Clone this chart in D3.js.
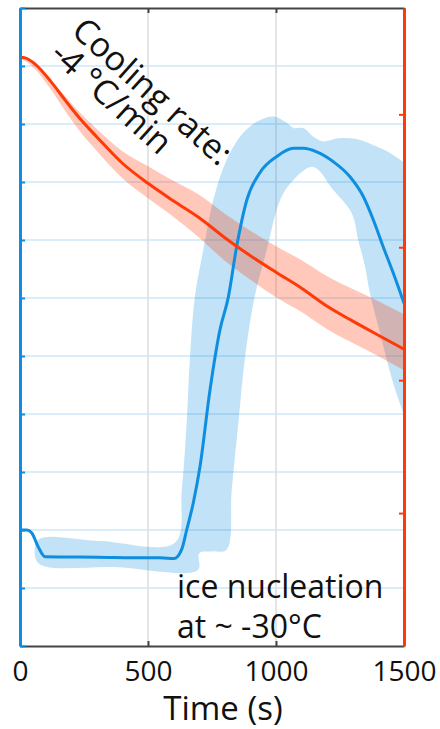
<!DOCTYPE html>
<html>
<head>
<meta charset="utf-8">
<script src="https://cdn.jsdelivr.net/npm/d3@7"></script>
<style>
  body { margin: 0; background: #fff; }
  svg text { font-family: "Open Sans", Lato, sans-serif; fill: #111; }
</style>
</head>
<body>
<div class="chart"></div>
<script>
// x axis
const xTicks = [0, 500, 1000, 1500];

// left axis (blue), arbitrary units, one gridline per unit
const leftTicks = [0, 1, 2, 3, 4, 5, 6, 7, 8, 9, 10, 11];
// right axis (red)
const rightTicks = [-30, -20, -10, 0];

// red curve (right axis) with its band
const redT  = [0, 20, 60, 120, 180, 240, 300, 400, 500, 600, 700, 800, 900, 1000, 1100, 1200, 1300, 1400, 1500];
const redV  = [4.29, 4.25, 3.76, 2.48, 0.98, -0.45, -1.70, -3.68, -5.19, -6.52, -7.78, -9.28, -10.64, -11.88, -13.08, -14.44, -15.56, -16.62, -17.67];
const redHi = [4.37, 4.33, 3.84, 2.63, 1.28, 0.00, -1.10, -2.78, -3.91, -5.02, -6.05, -7.48, -8.76, -9.93, -10.97, -12.18, -13.15, -14.06, -15.04];
const redLo = [4.14, 4.02, 3.38, 1.88, 0.15, -1.43, -2.75, -4.81, -6.32, -7.72, -9.28, -11.01, -12.44, -13.76, -14.88, -16.17, -17.21, -18.20, -19.25];

// blue curve (left axis)
const blueT = [0, 26, 46, 71, 98, 300, 501, 547, 603, 632, 651, 677, 703, 742, 781, 814, 846, 886, 937, 1003, 1068, 1107, 1159, 1224, 1289, 1341, 1380, 1419, 1458, 1500];
const blueV = [2.00, 2.00, 1.95, 1.71, 1.54, 1.53, 1.52, 1.52, 1.51, 1.67, 2.00, 2.47, 3.09, 4.41, 5.45, 6.02, 6.88, 7.69, 8.16, 8.44, 8.58, 8.58, 8.52, 8.35, 8.09, 7.75, 7.35, 6.88, 6.43, 5.91];

// blue band, upper/left edge and lower/right edge
const bandUpT = [71, 312, 605, 632, 651, 664, 684, 716, 755, 807, 872, 938, 990, 1042, 1068, 1107, 1146, 1185, 1237, 1315, 1393, 1445, 1500, 1530];
const bandUpV = [1.83, 1.81, 1.78, 2.69, 3.85, 4.98, 6.05, 6.83, 7.69, 8.38, 8.85, 9.07, 9.13, 9.02, 8.93, 8.93, 8.78, 8.70, 8.75, 8.74, 8.61, 8.50, 8.33, 8.20];
const bandLoT = [71, 371, 695, 700, 750, 807, 827, 853, 879, 918, 964, 1016, 1067, 1146, 1224, 1296, 1321, 1348, 1367, 1406, 1458, 1500, 1530];
const bandLoV = [1.43, 1.36, 1.31, 1.60, 1.63, 1.66, 2.69, 3.85, 4.98, 6.05, 6.83, 7.69, 8.03, 8.26, 7.86, 7.46, 7.00, 6.54, 6.08, 5.40, 4.53, 3.98, 3.60];

const blue = '#0f8ee0';
const red = '#ff3a08';

let width = 440, height = 729;
let margin = {top: 8, right: 36, bottom: 83, left: 20};

let svg = d3.select('.chart').append('svg')
    .attr('width', width)
    .attr('height', height);

let xScale = d3.scaleLinear().domain([0, 1500]).range([margin.left, width - margin.right]);
let yLeft = d3.scaleLinear().domain([0, 11]).range([height - margin.bottom, margin.top]);
let yRight = d3.scaleLinear().domain([-40, 8]).range([height - margin.bottom, margin.top]);

svg.append('clipPath')
    .attr('id', 'plotClip')
    .append('rect')
    .attr('x', margin.left).attr('y', margin.top)
    .attr('width', width - margin.left - margin.right)
    .attr('height', height - margin.top - margin.bottom);

// Gridlines
svg.append('g')
    .selectAll('line')
    .data(leftTicks.slice(1, -1))
    .enter().append('line')
    .attr('x1', margin.left).attr('x2', width - margin.right)
    .attr('y1', d => yLeft(d)).attr('y2', d => yLeft(d))
    .style('stroke', '#cde7f8')
    .style('stroke-width', 1.5);

svg.append('g')
    .selectAll('line')
    .data(xTicks.slice(1, -1))
    .enter().append('line')
    .attr('x1', d => xScale(d)).attr('x2', d => xScale(d))
    .attr('y1', margin.top).attr('y2', height - margin.bottom)
    .style('stroke', '#dcdcdc')
    .style('stroke-width', 1.5);

let plot = svg.append('g').attr('clip-path', 'url(#plotClip)');

// Blue band as a closed shape
let bandPts = bandUpT.map((t, i) => [t, bandUpV[i]])
    .concat(bandLoT.map((t, i) => [t, bandLoV[i]]).reverse());

let bandLine = d3.line()
    .x(d => xScale(d[0]))
    .y(d => yLeft(d[1]))
    .curve(d3.curveCatmullRomClosed.alpha(0.5));

plot.append('path')
    .attr('d', bandLine(bandPts))
    .style('fill', blue)
    .style('fill-opacity', 0.26)
    .style('stroke', 'none');

// Red band
let redArea = d3.area()
    .x((d, i) => xScale(redT[i]))
    .y0((d, i) => yRight(redLo[i]))
    .y1((d, i) => yRight(redHi[i]))
    .curve(d3.curveMonotoneX);

plot.append('path')
    .attr('d', redArea(redT))
    .style('fill', red)
    .style('fill-opacity', 0.28);

// Lines
let blueLine = d3.line()
    .x((d, i) => xScale(blueT[i]))
    .y((d, i) => yLeft(blueV[i]))
    .curve(d3.curveMonotoneX);

plot.append('path')
    .attr('d', blueLine(blueT))
    .style('fill', 'none')
    .style('stroke', blue)
    .style('stroke-width', 3);

let redLine = d3.line()
    .x((d, i) => xScale(redT[i]))
    .y((d, i) => yRight(redV[i]))
    .curve(d3.curveMonotoneX);

plot.append('path')
    .attr('d', redLine(redT))
    .style('fill', 'none')
    .style('stroke', red)
    .style('stroke-width', 3);

// Axes
let xAxis = d3.axisBottom(xScale).tickValues(xTicks).tickSize(-5).tickSizeOuter(0).tickFormat(d3.format('d'));
let gx = svg.append('g')
    .attr('transform', 'translate(0,' + (height - margin.bottom) + ')')
    .call(xAxis);
gx.select('.domain').style('stroke', '#444').style('stroke-width', 2);
gx.selectAll('.tick line').style('stroke', '#444').style('stroke-width', 2);
gx.selectAll('.tick text')
    .attr('y', 35)
    .attr('dy', null)
    .style('font-size', '28px')
    .style('font-family', '"Open Sans", sans-serif')
    .style('fill', '#111');

let xTop = d3.axisTop(xScale).tickValues(xTicks).tickSize(-5).tickSizeOuter(0).tickFormat('');
let gxt = svg.append('g')
    .attr('transform', 'translate(0,' + margin.top + ')')
    .call(xTop);
gxt.select('.domain').style('stroke', '#444').style('stroke-width', 2);
gxt.selectAll('.tick line').style('stroke', '#444').style('stroke-width', 2);

let gl = svg.append('g')
    .attr('transform', 'translate(' + margin.left + ',0)')
    .call(d3.axisLeft(yLeft).tickValues(leftTicks).tickSize(-5).tickSizeOuter(0).tickFormat(''));
gl.select('.domain').style('stroke', blue).style('stroke-width', 3);
gl.selectAll('.tick line').style('stroke', blue).style('stroke-width', 2);

let gr = svg.append('g')
    .attr('transform', 'translate(' + (width - margin.right) + ',0)')
    .call(d3.axisRight(yRight).tickValues(rightTicks).tickSize(-5).tickSizeOuter(0).tickFormat(''));
gr.select('.domain').style('stroke', red).style('stroke-width', 3);
gr.selectAll('.tick line').style('stroke', red).style('stroke-width', 2);

// Axis title
svg.append('text')
    .attr('x', 223)
    .attr('y', 720)
    .style('text-anchor', 'middle')
    .style('font-size', '33px')
    .text('Time (s)');

// Annotations
let cool = svg.append('text')
    .attr('transform', 'translate(70,33) rotate(42)')
    .style('font-size', '34px');
cool.append('tspan').attr('x', 0).attr('dy', 0).text('Cooling rate:');
cool.append('tspan').attr('x', 0).attr('dy', 32).text('-4 °C/min');

svg.append('text')
    .attr('x', 177).attr('y', 598)
    .style('font-size', '32px')
    .text('ice nucleation');
svg.append('text')
    .attr('x', 177).attr('y', 638)
    .style('font-size', '32px')
    .text('at ~ -30°C');
</script>
</body>
</html>
